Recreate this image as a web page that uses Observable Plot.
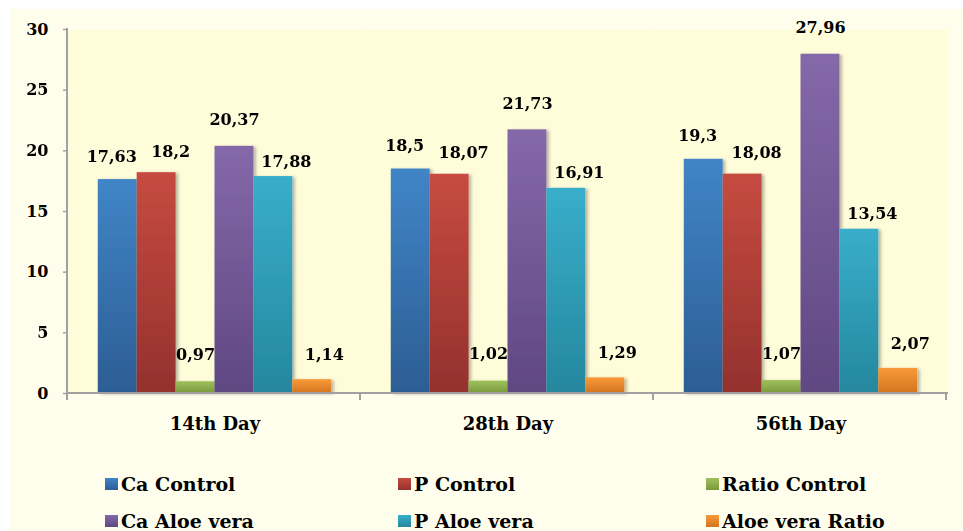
<!DOCTYPE html>
<html>
<head>
<meta charset="utf-8">
<script src="https://cdn.jsdelivr.net/npm/d3@7"></script>
<script src="https://cdn.jsdelivr.net/npm/@observablehq/plot@0.6"></script>
<style>
  html, body { margin: 0; padding: 0; background: #ffffff; width: 963px; height: 531px; overflow: hidden; }
  #bg { position: absolute; left: 10px; top: 9px; right: 0; bottom: 0; background: #FFFEEC; }
  #chart { position: absolute; left: 0; top: 0; }
  #legend { position: absolute; left: 105px; top: 473px; display: grid;
    grid-template-columns: 293px 308px 220px; row-gap: 15px;
    font-family: "DejaVu Serif", serif; font-weight: bold; font-size: 19px; color: #000; }
  .item { display: flex; align-items: flex-start; height: 22px; line-height: 22px; white-space: nowrap; }
  .sw { width: 13px; height: 12px; margin-top: 5px; margin-right: 3px; flex: none; }
</style>
</head>
<body>
<svg width="0" height="0" style="position:absolute">
  <defs id="defs"></defs>
</svg>
<div id="bg"></div>
<div id="chart"></div>
<div id="legend"></div>
<script>
// ---- data ----
const days = ["14th Day", "28th Day", "56th Day"];
const series = ["Ca Control", "P Control", "Ratio Control", "Ca Aloe vera", "P Aloe vera", "Aloe vera Ratio"];
const caControl = [17.63, 18.5, 19.3];
const pControl = [18.2, 18.07, 18.08];
const ratioControl = [0.97, 1.02, 1.07];
const caAloeVera = [20.37, 21.73, 27.96];
const pAloeVera = [17.88, 16.91, 13.54];
const aloeVeraRatio = [1.14, 1.29, 2.07];
const yTicks = [0, 5, 10, 15, 20, 25, 30];

const seriesValues = [caControl, pControl, ratioControl, caAloeVera, pAloeVera, aloeVeraRatio];
const rows = days.flatMap((d, i) => series.map((s, j) => ({day: d, series: s, value: seriesValues[j][i]})));

// ---- styles ----
const gradColors = [
  ["#4085C7", "#2C5D93"],
  ["#C64B40", "#94312E"],
  ["#9FC15B", "#7A9A3D"],
  ["#8568A9", "#5F4882"],
  ["#38AECA", "#25879E"],
  ["#F99A38", "#D27520"]
];
const labelOffset = {
  "Ca Control": [-6, -23],
  "P Control": [14, -21],
  "Ratio Control": [0, -27],
  "Ca Aloe vera": [0, -26],
  "P Aloe vera": [13, -15],
  "Aloe vera Ratio": [12, -25]
};

const defs = d3.select("#defs");
gradColors.forEach(([top, bottom], i) => {
  const g = defs.append("linearGradient").attr("id", "grad" + i)
    .attr("x1", 0).attr("y1", 0).attr("x2", 0).attr("y2", 1);
  g.append("stop").attr("offset", "0%").attr("stop-color", top);
  g.append("stop").attr("offset", "100%").attr("stop-color", bottom);
});
const f = defs.append("filter").attr("id", "shadow").attr("x", "-20%").attr("y", "-5%").attr("width", "150%").attr("height", "115%");
f.append("feDropShadow").attr("dx", 2.5).attr("dy", 1).attr("stdDeviation", 1.6)
  .attr("flood-color", "#000").attr("flood-opacity", 0.28);

const fmt = v => String(v).replace(".", ",");

const plot = Plot.plot({
  width: 963,
  height: 445,
  marginLeft: 67,
  marginRight: 15,
  marginTop: 29,
  marginBottom: 52,
  style: {fontFamily: "DejaVu Serif, serif", fontWeight: "bold", fontSize: "16px", background: "transparent", color: "#000"},
  fx: {domain: days, padding: 0, label: null},
  x: {domain: series, paddingInner: 0, paddingOuter: 0.765, round: false, axis: null},
  y: {domain: [0, 30], label: null},
  color: {domain: series, range: series.map((s, i) => `url(#grad${i})`)},
  marks: [
    Plot.frame({fill: "#FFFCDA", stroke: "none"}),
    Plot.barY(rows, {fx: "day", x: "series", y: "value", fill: "series"}),
    ...series.map(s => Plot.text(rows.filter(r => r.series === s), {
      fx: "day", x: "series", y: "value", text: d => fmt(d.value),
      dx: labelOffset[s][0], dy: labelOffset[s][1], fontSize: 16, fill: "#000"
    })),
    Plot.axisY(yTicks, {tickSize: 5, tickPadding: 15, stroke: "#A0A0A0", strokeWidth: 1.5, fontSize: 16, fill: "#000", label: null}),
    Plot.axisFx({anchor: "bottom", tickSize: 0, tickPadding: 24, fontSize: 18, fill: "#000", label: null})
  ]
});
document.getElementById("chart").appendChild(plot);

// bar shadows
d3.select(plot).selectAll('g[aria-label="bar"]').attr("filter", "url(#shadow)");

// axis lines derived from Plot's scales
const ys = plot.scale("y");
const fxs = plot.scale("fx");
const y0 = ys.apply(0);
const yTop = Math.min(...ys.range) - 1;
const [xl, xr] = fxs.range;
const g = d3.select(plot).append("g").attr("stroke", "#A0A0A0").attr("stroke-width", 2).attr("fill", "none");
g.append("line").attr("x1", xl).attr("x2", xl).attr("y1", yTop).attr("y2", y0);
g.append("line").attr("x1", xl).attr("x2", xr).attr("y1", y0).attr("y2", y0);
d3.range(fxs.domain.length + 1).forEach(k => {
  const x = xl + k * fxs.step;
  g.append("line").attr("x1", x).attr("x2", x).attr("y1", y0).attr("y2", y0 + 7);
});

// legend
const legend = d3.select("#legend");
series.forEach((s, i) => {
  const item = legend.append("div").attr("class", "item");
  item.append("div").attr("class", "sw")
    .style("background", `linear-gradient(${gradColors[i][0]}, ${gradColors[i][1]})`);
  item.append("span").text(s);
});
</script>
</body>
</html>
